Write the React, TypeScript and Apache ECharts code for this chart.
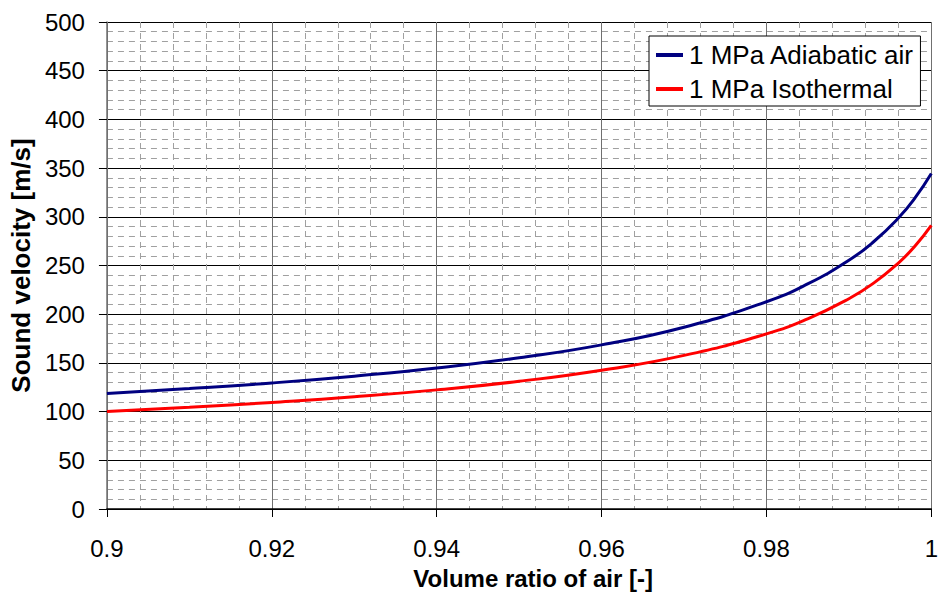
import React, { useEffect, useRef } from "react";
import * as echarts from "echarts";

const volumeRatio = [0.9, 0.91, 0.92, 0.93, 0.94, 0.95, 0.96, 0.97, 0.98, 0.985, 0.99, 0.993, 0.996, 0.998, 1.0];
const adiabatic = [118.6, 123.6, 129.4, 136.4, 144.7, 155.2, 168.5, 186.6, 212.8, 231.1, 255.4, 274.4, 298.7, 319.1, 344.4];
const isothermal = [100.2, 104.4, 109.4, 115.2, 122.3, 131.1, 142.5, 157.7, 179.8, 195.3, 215.9, 231.9, 252.5, 269.7, 291.1];
const seriesNames = ["1 MPa Adiabatic air", "1 MPa Isothermal"];

export default function App() {
  const ref = useRef<HTMLDivElement>(null);
  useEffect(() => {
    const chart = echarts.init(ref.current!, null, { renderer: "svg" });
    const font = "Liberation Sans, Arial, sans-serif";
    chart.setOption({
      animation: false,
      backgroundColor: "#fff",
      grid: { left: 104, right: 4, top: 22, bottom: 87, containLabel: false },
      legend: {
        orient: "vertical",
        left: 649,
        top: 36,
        padding: [6, 6, 4, 7],
        itemGap: 8,
        itemWidth: 27,
        itemHeight: 4,
        icon: "rect",
        backgroundColor: "#fff",
        borderColor: "#000",
        borderWidth: 1,
        textStyle: { fontFamily: font, fontSize: 26, color: "#000", padding: [0, 0, 0, 1] },
        data: seriesNames,
      },
      xAxis: {
        type: "value",
        min: 0.9,
        max: 1.0,
        interval: 0.02,
        name: "Volume ratio of air [-]",
        nameLocation: "middle",
        nameGap: 57,
        nameTextStyle: {
          fontFamily: font,
          fontSize: 24,
          fontWeight: "bold",
          color: "#000",
          padding: [0, 0, 0, 28],
        },
        axisLine: { show: true, onZero: false, lineStyle: { color: "#000", width: 1.5 } },
        axisTick: { show: true, length: 8, lineStyle: { color: "#000" } },
        axisLabel: {
          fontFamily: font,
          fontSize: 24,
          color: "#000",
          margin: 27,
          formatter: (v: number) => String(parseFloat(v.toFixed(2))),
        },
        splitLine: { show: true, lineStyle: { color: "#707070", width: 1 } },
        minorTick: { show: false, splitNumber: 5 },
        minorSplitLine: { show: true, lineStyle: { color: "#a0a0a0", width: 1, type: [6, 5] } },
      },
      yAxis: {
        type: "value",
        min: 0,
        max: 500,
        interval: 50,
        name: "Sound velocity [m/s]",
        nameLocation: "middle",
        nameGap: 67,
        nameRotate: 90,
        nameTextStyle: { fontFamily: font, fontSize: 26, fontWeight: "bold", color: "#000" },
        axisLine: { show: true, lineStyle: { color: "#707070", width: 1.5 } },
        axisTick: { show: true, length: 8, lineStyle: { color: "#000" } },
        axisLabel: { fontFamily: font, fontSize: 24, color: "#000", margin: 22 },
        splitLine: { show: true, lineStyle: { color: "#000", width: 1 } },
        minorTick: { show: false, splitNumber: 5 },
        minorSplitLine: { show: true, lineStyle: { color: "#a0a0a0", width: 1, type: [6, 5] } },
      },
      series: [
        {
          name: seriesNames[0],
          type: "line",
          smooth: true,
          showSymbol: false,
          symbol: "none",
          data: volumeRatio.map((x, i) => [x, adiabatic[i]]),
          lineStyle: { color: "#000080", width: 3 },
          itemStyle: { color: "#000080" },
        },
        {
          name: seriesNames[1],
          type: "line",
          smooth: true,
          showSymbol: false,
          symbol: "none",
          data: volumeRatio.map((x, i) => [x, isothermal[i]]),
          lineStyle: { color: "#ff0000", width: 3 },
          itemStyle: { color: "#ff0000" },
        },
      ],
    });
    return () => chart.dispose();
  }, []);
  return <div ref={ref} style={{ width: 941, height: 596, position: "absolute", left: 0, top: 0 }} />;
}
